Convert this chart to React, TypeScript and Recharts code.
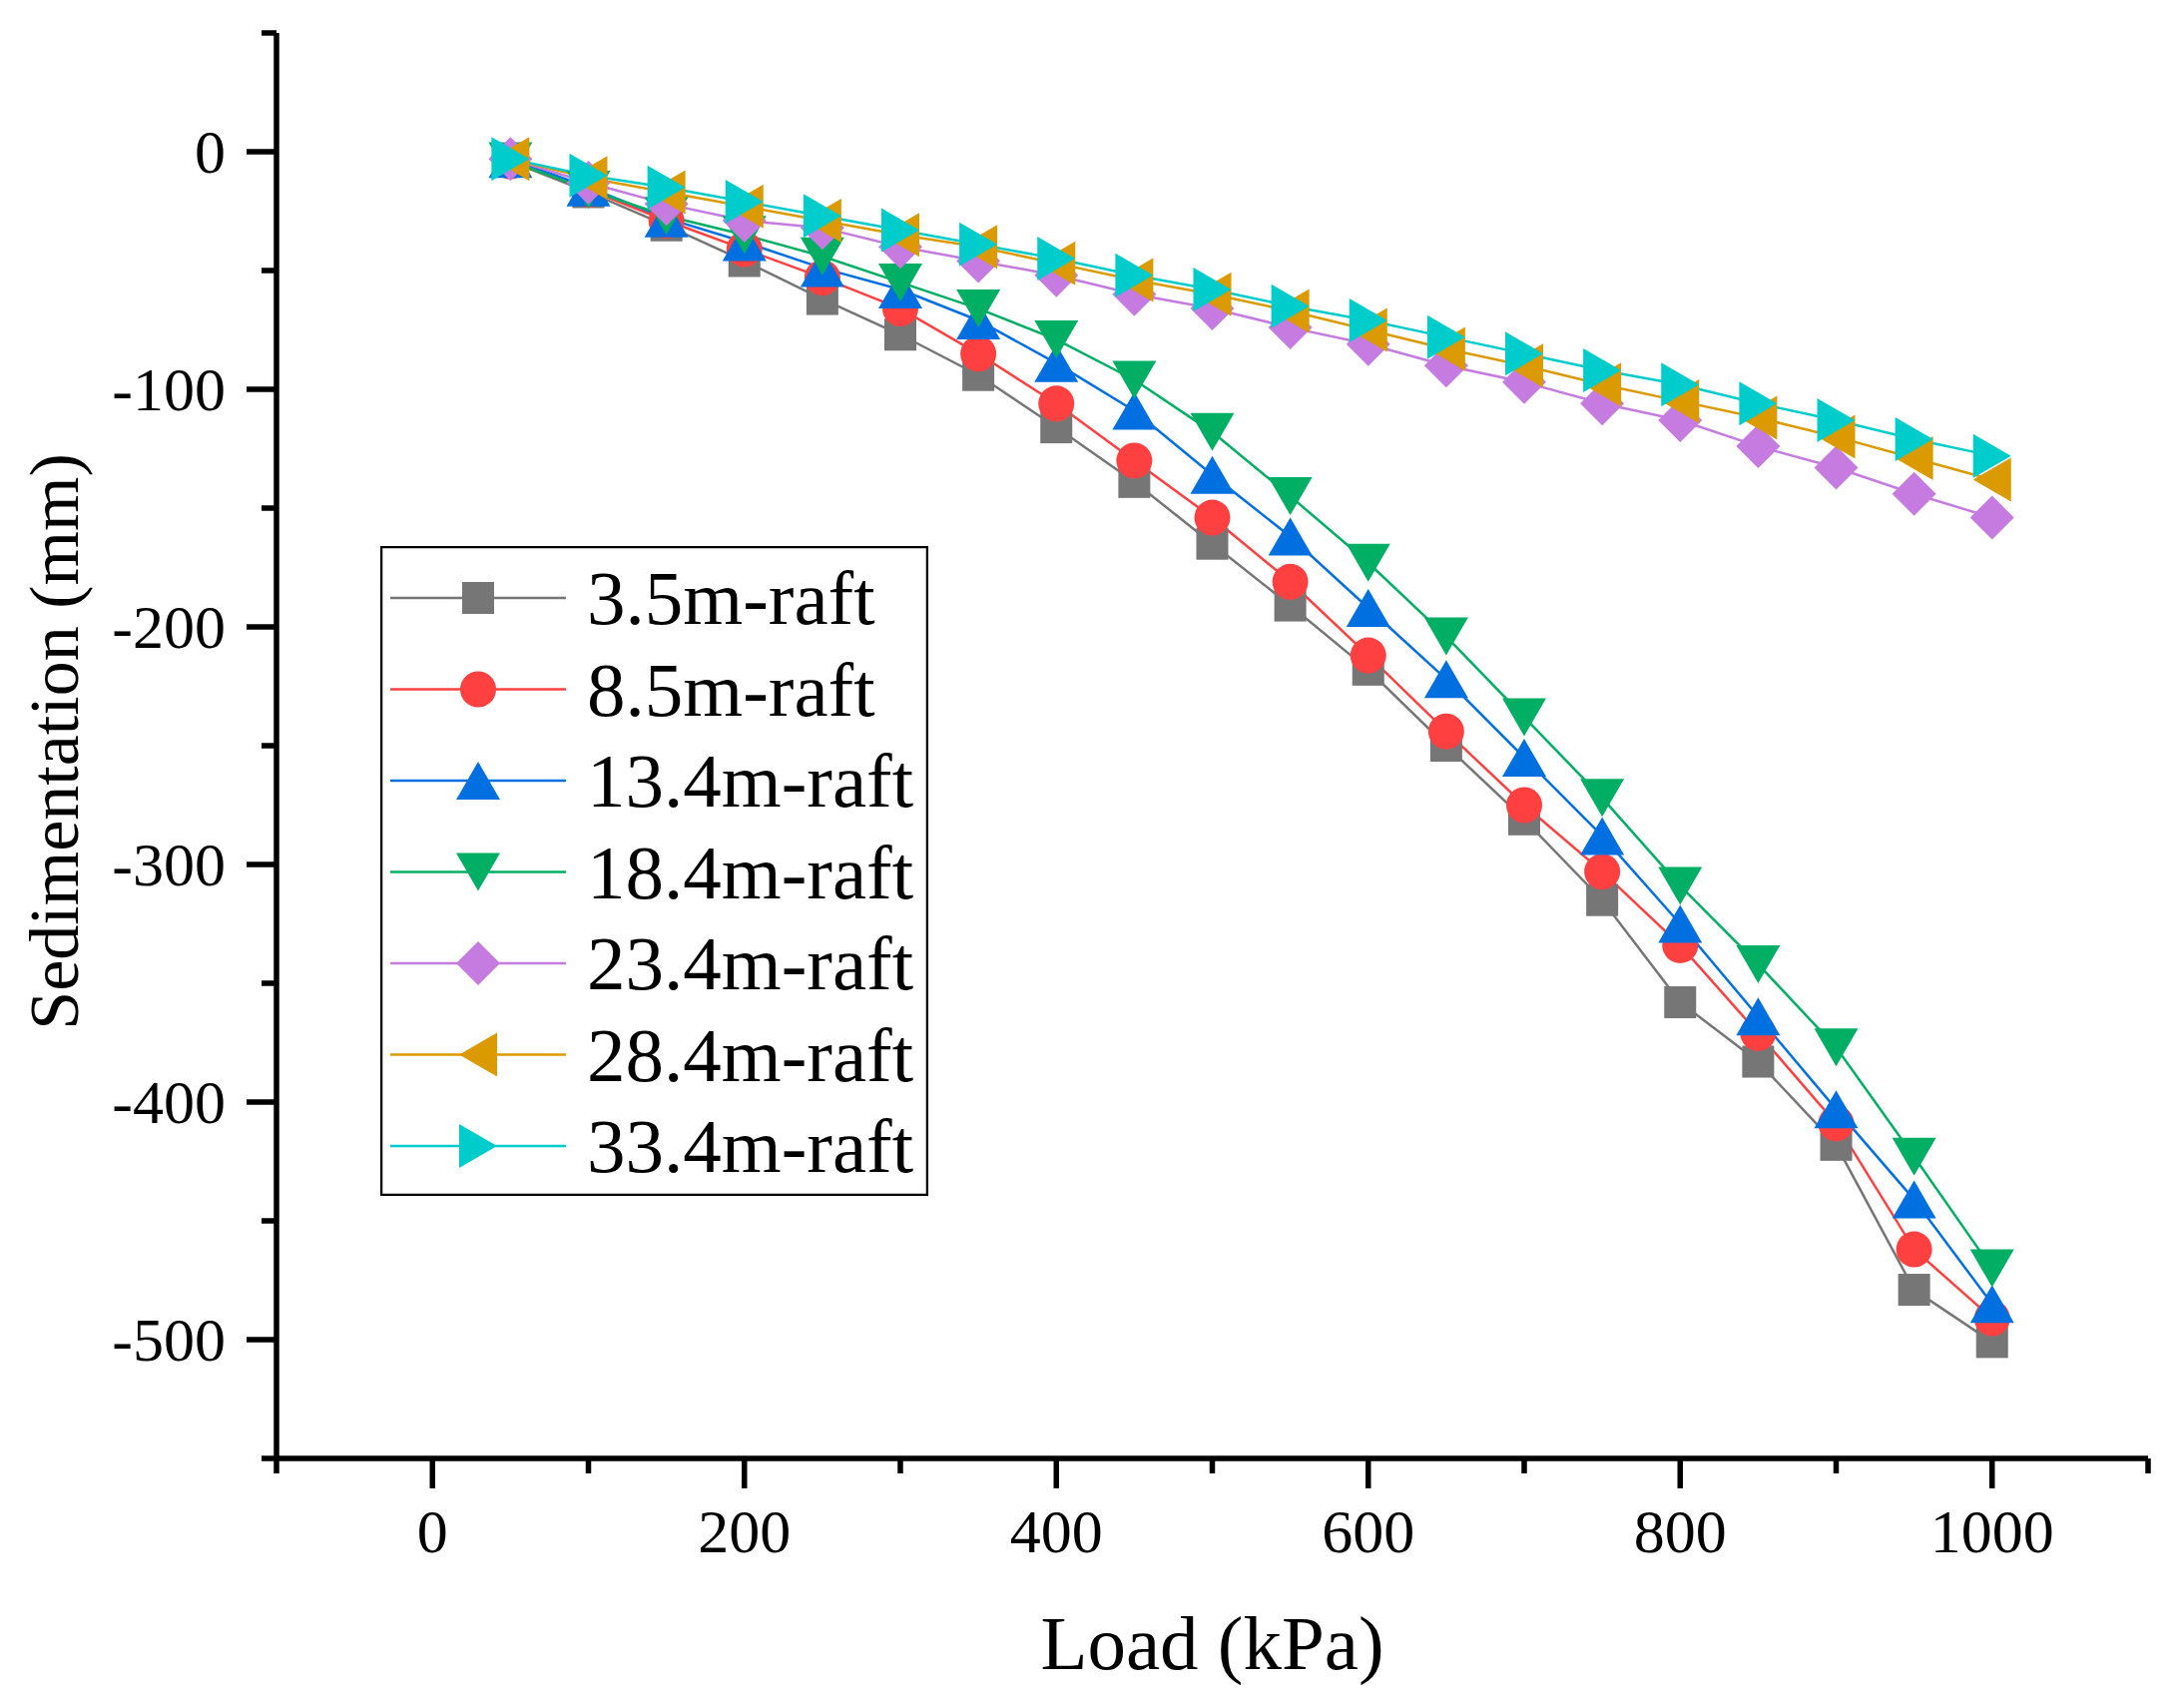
import React from 'react';
import { LineChart, Line, XAxis, YAxis, Legend } from 'recharts';

// ---------- data ----------
const LOADS = [50, 100, 150, 200, 250, 300, 350, 400, 450, 500, 550, 600, 650, 700, 750, 800, 850, 900, 950, 1000];

const RAFT_3_5 = [-4, -17, -31, -46, -62, -77, -94, -116, -139, -165, -191, -218, -250, -281, -315, -358, -383, -418, -479, -501];
const RAFT_8_5 = [-4, -16, -29, -41, -53, -66, -85, -106, -130, -154, -181, -212, -244, -275, -303, -334, -371, -409, -462, -491];
const RAFT_13_4 = [-3, -15, -28, -38, -49, -58, -71, -89, -109, -136, -162, -192, -222, -255, -288, -325, -364, -403, -441, -485];
const RAFT_18_4 = [-4, -16, -27, -35, -44, -55, -66, -79, -96, -118, -145, -173, -204, -238, -272, -309, -342, -377, -423, -470];
const RAFT_23_4 = [-3, -13, -22, -29, -32, -40, -46, -52, -60, -66, -74, -81, -90, -97, -106, -113, -124, -133, -144, -154];
const RAFT_28_4 = [-3, -11, -17, -23, -29, -35, -40, -47, -54, -60, -67, -75, -83, -90, -98, -105, -112, -120, -129, -138];
const RAFT_33_4 = [-3, -10, -15, -21, -27, -33, -39, -45, -52, -58, -65, -71, -78, -85, -92, -98, -106, -113, -121, -128];

const SERIES_KEYS = ['r35', 'r85', 'r134', 'r184', 'r234', 'r284', 'r334'];
const SERIES_VALUES = [RAFT_3_5, RAFT_8_5, RAFT_13_4, RAFT_18_4, RAFT_23_4, RAFT_28_4, RAFT_33_4];
const SERIES_NAMES = ['3.5m-raft', '8.5m-raft', '13.4m-raft', '18.4m-raft', '23.4m-raft', '28.4m-raft', '33.4m-raft'];
const SERIES_COLORS = ['#767676', '#FF4040', '#0070E0', '#00AF64', '#C57BE0', '#DB9A00', '#00CCCC'];
const SERIES_SHAPES = ['square', 'circle', 'up', 'down', 'diamond', 'left', 'right'];

const X_TICKS = [-100, 0, 100, 200, 300, 400, 500, 600, 700, 800, 900, 1000, 1100];
const Y_TICKS = [-550, -500, -450, -400, -350, -300, -250, -200, -150, -100, -50, 0, 50];

const X_TITLE = 'Load (kPa)';
const Y_TITLE = 'Sedimentation (mm)';

const TABLE = LOADS.map((load, i) => {
  const row: Record<string, number> = { load };
  SERIES_KEYS.forEach((k, s) => {
    row[k] = SERIES_VALUES[s][i];
  });
  return row;
});

// ---------- styles ----------
const FONT = "'Liberation Serif', 'Times New Roman', Times, serif";
const AXIS_W = 5.5;

function Marker({ shape, cx, cy, color }: { shape: string; cx: number; cy: number; color: string }) {
  const t = 22; // half width of triangles / diamond
  const h = 19; // half height of triangles
  switch (shape) {
    case 'square':
      return <rect x={cx - 16} y={cy - 16} width={32} height={32} fill={color} />;
    case 'circle':
      return <circle cx={cx} cy={cy} r={18} fill={color} />;
    case 'up':
      return <polygon points={`${cx},${cy - h} ${cx + t},${cy + h} ${cx - t},${cy + h}`} fill={color} />;
    case 'down':
      return <polygon points={`${cx},${cy + h} ${cx + t},${cy - h} ${cx - t},${cy - h}`} fill={color} />;
    case 'diamond':
      return <polygon points={`${cx},${cy - t} ${cx + t},${cy} ${cx},${cy + t} ${cx - t},${cy}`} fill={color} />;
    case 'left':
      return <polygon points={`${cx - h},${cy} ${cx + h},${cy - t} ${cx + h},${cy + t}`} fill={color} />;
    case 'right':
      return <polygon points={`${cx + h},${cy} ${cx - h},${cy - t} ${cx - h},${cy + t}`} fill={color} />;
    default:
      return null;
  }
}

const XTick = (props: any) => {
  const { x, y, payload } = props;
  const v = payload.value;
  const major = v % 200 === 0;
  return (
    <g>
      <line x1={x} x2={x} y1={y} y2={y + (major ? 30 : 15)} stroke="#000" strokeWidth={AXIS_W} />
      {major && (
        <text x={x} y={y + 94} textAnchor="middle" fontFamily={FONT} fontSize={62} fill="#000">
          {String(v)}
        </text>
      )}
    </g>
  );
};

const YTick = (props: any) => {
  const { x, y, payload } = props;
  const v = payload.value;
  const major = v % 100 === 0;
  return (
    <g>
      <line x1={x} x2={x - (major ? 30 : 15)} y1={y} y2={y} stroke="#000" strokeWidth={AXIS_W} />
      {major && (
        <text x={x - 51} y={y + 21} textAnchor="end" fontFamily={FONT} fontSize={62} fill="#000">
          {String(v)}
        </text>
      )}
    </g>
  );
};

const LegendBox = (props: any) => {
  const payload: any[] = props.payload || [];
  const W = 549;
  const H = 651;
  return (
    <svg width={W} height={H} style={{ display: 'block' }}>
      <rect x={1} y={1} width={W - 2} height={H - 2} fill="#fff" stroke="#000" strokeWidth={2.5} />
      {SERIES_KEYS.map((key, idx) => {
        const entry = payload.find((e) => e.dataKey === key);
        const cy = 52 + idx * 91.5;
        const color = (entry && entry.color) || SERIES_COLORS[idx];
        const name = (entry && entry.value) || SERIES_NAMES[idx];
        return (
          <g key={key}>
            <line x1={10} x2={186} y1={cy} y2={cy} stroke={color} strokeWidth={2.5} />
            <Marker shape={SERIES_SHAPES[idx]} cx={98} cy={cy} color={color} />
            <text x={207} y={cy + 26} fontFamily={FONT} fontSize={77} fill="#000">
              {name}
            </text>
          </g>
        );
      })}
    </svg>
  );
};

export default function App() {
  return (
    <div style={{ position: 'absolute', left: 0, top: 0, width: 2187, height: 1711, background: '#fff' }}>
      <LineChart
        width={2187}
        height={1711}
        data={TABLE}
        margin={{ top: 33, right: 35, bottom: 0, left: 0 }}
      >
        <XAxis
          dataKey="load"
          type="number"
          domain={[-100, 1100]}
          ticks={X_TICKS}
          interval={0}
          height={250}
          tickSize={0}
          tickMargin={0}
          tickLine={false}
          axisLine={{ stroke: '#000', strokeWidth: AXIS_W }}
          tick={XTick}
          allowDataOverflow
          label={{
            content: (p: any) => {
              const vb = p.viewBox || { x: 277, y: 1461, width: 1875, height: 250 };
              return (
                <text
                  x={vb.x + vb.width / 2}
                  y={vb.y + 211}
                  textAnchor="middle"
                  fontFamily={FONT}
                  fontSize={77}
                  fill="#000"
                >
                  {X_TITLE}
                </text>
              );
            },
          }}
        />
        <YAxis
          type="number"
          domain={[-550, 50]}
          ticks={Y_TICKS}
          interval={0}
          width={277}
          tickSize={0}
          tickMargin={0}
          tickLine={false}
          axisLine={{ stroke: '#000', strokeWidth: AXIS_W }}
          tick={YTick}
          allowDataOverflow
          label={{
            content: (p: any) => {
              const vb = p.viewBox || { x: 0, y: 33, width: 277, height: 1428 };
              const cx = vb.x + 78;
              const cy = vb.y + vb.height / 2 - 4;
              return (
                <text
                  x={cx}
                  y={cy}
                  transform={`rotate(-90, ${cx}, ${cy})`}
                  textAnchor="middle"
                  fontFamily={FONT}
                  fontSize={70}
                  fill="#000"
                >
                  {Y_TITLE}
                </text>
              );
            },
          }}
        />
        <Legend
          layout="vertical"
          align="center"
          verticalAlign="middle"
          wrapperStyle={{ left: 381, top: 547, width: 549, height: 651 }}
          content={LegendBox}
        />
        {SERIES_KEYS.map((k, s) => (
          <Line
            key={k}
            dataKey={k}
            name={SERIES_NAMES[s]}
            type="linear"
            stroke={SERIES_COLORS[s]}
            strokeWidth={2.5}
            isAnimationActive={false}
            activeDot={false}
            dot={(p: any) => (
              <Marker key={`${k}-${p.index}`} shape={SERIES_SHAPES[s]} cx={p.cx} cy={p.cy} color={SERIES_COLORS[s]} />
            )}
          />
        ))}
      </LineChart>
    </div>
  );
}
